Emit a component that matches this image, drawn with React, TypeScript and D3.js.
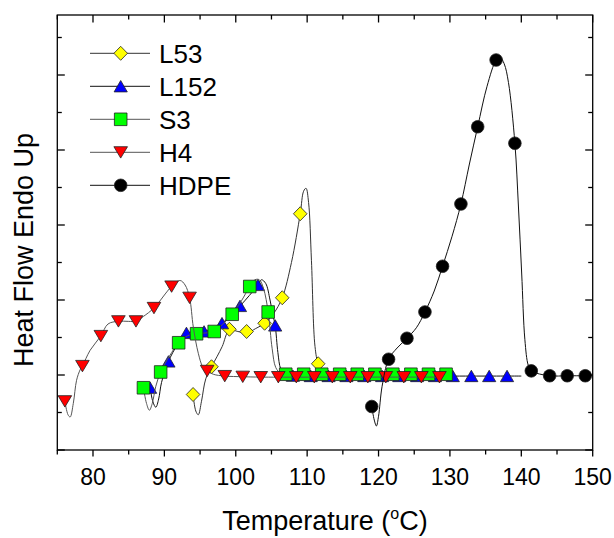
import * as d3 from "d3";

type Pt = [number, number];

// temperatures (°C) and heat flow (arbitrary units, 1 unit = one major y tick)
const l53Trace: Pt[] = [
  [94.02, 0.74], [94.4, 0.52], [94.75, 0.47], [95.2, 0.65], [95.8, 0.95], [96.6, 1.11],
  [97.4, 1.25], [98.1, 1.38], [99.11, 1.6], [100.3, 1.58], [101.52, 1.56], [102.8, 1.62],
  [104.04, 1.69], [105.3, 1.82], [106.51, 2.03], [107.8, 2.5], [109.03, 3.15], [109.5, 3.45],
  [109.84, 3.49], [110.2, 3.3], [110.6, 2.53], [111.1, 1.38], [111.55, 1.15], [112.3, 1.03],
  [113.5, 1.0],
];
const l53Marks: Pt[] = [
  [94.02, 0.74], [96.6, 1.11], [99.11, 1.61], [101.52, 1.58], [104.04, 1.69], [106.51, 2.03],
  [109.03, 3.15], [111.55, 1.15],
];

const l152Trace: Pt[] = [
  [88.0, 0.83], [88.4, 0.64], [88.8, 0.57], [89.2, 0.68], [89.6, 0.9], [90.57, 1.18],
  [91.8, 1.4], [93.09, 1.56], [94.3, 1.57], [95.56, 1.58], [96.8, 1.63], [98.07, 1.69],
  [99.3, 1.8], [100.59, 1.92], [101.9, 2.06], [103.11, 2.2], [103.6, 2.27], [104.2, 2.22],
  [104.8, 2.0], [105.2, 1.8], [105.52, 1.66], [105.9, 1.3], [106.3, 1.08], [106.9, 1.0],
  [108.0, 0.99], [120.0, 0.986], [140.0, 0.986],
];
const l152Marks: Pt[] = [
  [88.0, 0.83], [90.57, 1.18], [93.09, 1.56], [95.56, 1.58], [98.07, 1.69], [100.59, 1.92],
  [103.11, 2.2], [105.52, 1.66], [108.0, 0.99], [110.5, 0.986], [113.0, 0.986], [115.5, 0.986],
  [118.0, 0.986], [120.5, 0.986], [122.9, 0.986], [125.4, 0.986], [127.9, 0.986], [130.4, 0.986],
  [133.0, 0.986], [135.5, 0.986], [138.0, 0.986],
];

const s3Trace: Pt[] = [
  [87.07, 0.83], [87.5, 0.62], [87.9, 0.53], [88.3, 0.62], [88.8, 0.85], [89.48, 1.04],
  [90.7, 1.25], [92.0, 1.43], [93.2, 1.52], [94.51, 1.55], [95.7, 1.56], [96.98, 1.58],
  [98.2, 1.68], [99.5, 1.81], [100.8, 1.99], [101.96, 2.18], [102.7, 2.27], [103.3, 2.27],
  [103.9, 2.15], [104.54, 1.84], [105.1, 1.35], [105.6, 1.1], [106.3, 1.02], [107.0, 1.01],
  [118.0, 1.01], [130.0, 1.01],
];
const s3Marks: Pt[] = [
  [87.07, 0.83], [89.48, 1.04], [92.0, 1.43], [94.51, 1.55], [96.98, 1.58], [99.5, 1.81],
  [101.96, 2.18], [104.54, 1.84], [107.0, 1.01], [109.52, 1.01], [112.04, 1.01], [114.56, 1.01],
  [117.02, 1.01], [119.49, 1.01], [122.0, 1.01], [124.53, 1.01], [127.0, 1.01], [129.46, 1.01],
];

const h4Trace: Pt[] = [
  [76.06, 0.65], [76.5, 0.47], [76.8, 0.44], [77.24, 0.62], [77.7, 0.93], [78.2, 1.07],
  [78.52, 1.12], [79.6, 1.33], [81.1, 1.52], [82.1, 1.68], [83.56, 1.716], [85.0, 1.715],
  [86.02, 1.716], [87.05, 1.78], [88.54, 1.894], [91.01, 2.18], [92.2, 2.26], [92.9, 2.2],
  [93.53, 2.03], [94.05, 1.64], [94.75, 1.29], [95.37, 1.11], [95.99, 1.055], [96.85, 1.01],
  [98.46, 0.986], [100.98, 0.977], [103.5, 0.972], [116.0, 0.972], [129.0, 0.972],
];
const h4Marks: Pt[] = [
  [76.06, 0.65], [78.52, 1.12], [81.1, 1.52], [83.56, 1.716], [86.02, 1.716], [88.54, 1.894],
  [91.01, 2.18], [93.53, 2.03], [95.99, 1.055], [98.46, 0.986], [100.98, 0.977], [103.5, 0.972],
  [105.96, 0.972], [108.48, 0.972], [111.0, 0.972], [113.52, 0.972], [116.04, 0.972],
  [118.5, 0.972], [121.02, 0.972], [123.54, 0.972], [126.0, 0.972], [128.53, 0.972],
];

const hdpeTrace: Pt[] = [
  [119.05, 0.58], [119.4, 0.4], [119.7, 0.32], [120.0, 0.45], [120.5, 0.85], [121.41, 1.21],
  [122.6, 1.36], [123.98, 1.49], [125.3, 1.63], [126.5, 1.84], [127.8, 2.12], [128.97, 2.45],
  [130.3, 2.85], [131.54, 3.28], [132.7, 3.8], [133.89, 4.31], [135.2, 4.85], [136.47, 5.2],
  [137.0, 5.24], [137.6, 5.15], [138.2, 4.9], [139.1, 4.09], [139.6, 3.24], [140.05, 2.36],
  [140.5, 1.47], [140.97, 1.13], [141.4, 1.055], [143.97, 0.99], [146.43, 0.99],
  [148.96, 0.99], [149.9, 0.99],
];
const hdpeMarks: Pt[] = [
  [119.05, 0.58], [121.41, 1.21], [123.98, 1.49], [126.5, 1.84], [128.97, 2.45], [131.54, 3.28],
  [133.89, 4.31], [136.47, 5.2], [139.1, 4.09], [141.4, 1.055], [143.97, 0.99], [146.43, 0.99],
  [148.96, 0.99],
];

const xTickLabels = ["80", "90", "100", "110", "120", "130", "140", "150"];

type Shape = "diamond" | "up" | "square" | "down" | "circle";

const series = [
  { name: "L53", trace: l53Trace, marks: l53Marks, shape: "diamond" as Shape, fill: "#ffff00", line: "#333" },
  { name: "L152", trace: l152Trace, marks: l152Marks, shape: "up" as Shape, fill: "#0000ff", line: "#111" },
  { name: "S3", trace: s3Trace, marks: s3Marks, shape: "square" as Shape, fill: "#00ff00", line: "#555" },
  { name: "H4", trace: h4Trace, marks: h4Marks, shape: "down" as Shape, fill: "#ff0000", line: "#555" },
  { name: "HDPE", trace: hdpeTrace, marks: hdpeMarks, shape: "circle" as Shape, fill: "#000000", line: "#111" },
];

function markerPath(shape: Shape): string {
  if (shape === "diamond") return "M0,-7L6.8,0L0,7L-6.8,0Z";
  if (shape === "up") return "M0,-5.8L6.6,5.6L-6.6,5.6Z";
  if (shape === "down") return "M0,5.8L6.8,-5.6L-6.8,-5.6Z";
  if (shape === "square") return "M-6.3,-6.3H6.3V6.3H-6.3Z";
  return "M6.3,0A6.3,6.3 0 1,1 -6.3,0A6.3,6.3 0 1,1 6.3,0Z";
}

const font = "'Liberation Sans', Arial, Helvetica, sans-serif";

export default function App() {
  const x = d3.scaleLinear().domain([75, 150]).range([57.3, 592.7]);
  const y = d3.scaleLinear().domain([0, 5.8]).range([450, 15]);
  const line = d3
    .line<Pt>()
    .x((d) => x(d[0]))
    .y((d) => y(d[1]))
    .curve(d3.curveCatmullRom.alpha(0.5));

  const xMajor = x.ticks(8);
  const xMinor = x.ticks(15).filter((t) => !xMajor.includes(t));
  const yMajor = y.ticks(6);
  const yMinor = y.ticks(12).filter((t) => !yMajor.includes(t));
  const [x0, x1] = x.range();
  const [y0, y1] = y.range();
  const maj = 7.5;
  const min = 4.5;

  return (
    <svg width={614} height={538} style={{ position: "absolute", left: 0, top: 0 }} fontFamily={font}>
      <rect width={614} height={538} fill="#fff" />

      {series.map((s) => (
        <g key={s.name}>
          <path d={line(s.trace) ?? ""} fill="none" stroke={s.line} strokeWidth={1} />
          {s.marks.map((m, i) => (
            <path
              key={i}
              d={markerPath(s.shape)}
              transform={`translate(${x(m[0])},${y(m[1])})`}
              fill={s.fill}
              stroke="#222"
              strokeWidth={0.8}
            />
          ))}
        </g>
      ))}

      {/* frame */}
      <rect x={x0} y={y1} width={x1 - x0} height={y0 - y1} fill="none" stroke="#000" strokeWidth={1.3} />

      {/* x ticks: bottom outward, top inward; y ticks inward */}
      <g stroke="#000" strokeWidth={1.3}>
        {xMajor.map((t) => (
          <g key={"xM" + t}>
            <line x1={x(t)} x2={x(t)} y1={y0} y2={y0 + maj - 1} />
            <line x1={x(t)} x2={x(t)} y1={y1} y2={y1 + maj} />
          </g>
        ))}
        {xMinor.map((t) => (
          <g key={"xm" + t}>
            <line x1={x(t)} x2={x(t)} y1={y0} y2={y0 + min} />
            <line x1={x(t)} x2={x(t)} y1={y1} y2={y1 + min} />
          </g>
        ))}
        {yMajor.map((t) => (
          <g key={"yM" + t}>
            <line x1={x0} x2={x0 + maj} y1={y(t)} y2={y(t)} />
            <line x1={x1} x2={x1 - maj} y1={y(t)} y2={y(t)} />
          </g>
        ))}
        {yMinor.map((t) => (
          <g key={"ym" + t}>
            <line x1={x0} x2={x0 + min} y1={y(t)} y2={y(t)} />
            <line x1={x1} x2={x1 - min} y1={y(t)} y2={y(t)} />
          </g>
        ))}
      </g>

      {xMajor.map((t, i) => (
        <text key={"xl" + t} x={x(t)} y={485} fontSize={23} textAnchor="middle" fill="#000">
          {xTickLabels[i]}
        </text>
      ))}

      <text x={(x0 + x1) / 2} y={530} fontSize={27} textAnchor="middle" fill="#000">
        Temperature (
        <tspan fontSize={16} dy={-11}>o</tspan>
        <tspan dy={11}>C)</tspan>
      </text>

      <text
        transform={`translate(33,250) rotate(-90)`}
        fontSize={27}
        textAnchor="middle"
        fill="#000"
      >
        Heat Flow Endo Up
      </text>

      {/* legend */}
      {series.map((s, i) => {
        const ly = 53.3 + i * 33;
        return (
          <g key={"lg" + s.name}>
            <line x1={90} x2={150} y1={ly} y2={ly} stroke={s.line} strokeWidth={1} />
            <path
              d={markerPath(s.shape)}
              transform={`translate(120.7,${ly})`}
              fill={s.fill}
              stroke="#222"
              strokeWidth={0.8}
            />
            <text x={159} y={ly + 9.5} fontSize={26} fill="#000">
              {s.name}
            </text>
          </g>
        );
      })}
    </svg>
  );
}
